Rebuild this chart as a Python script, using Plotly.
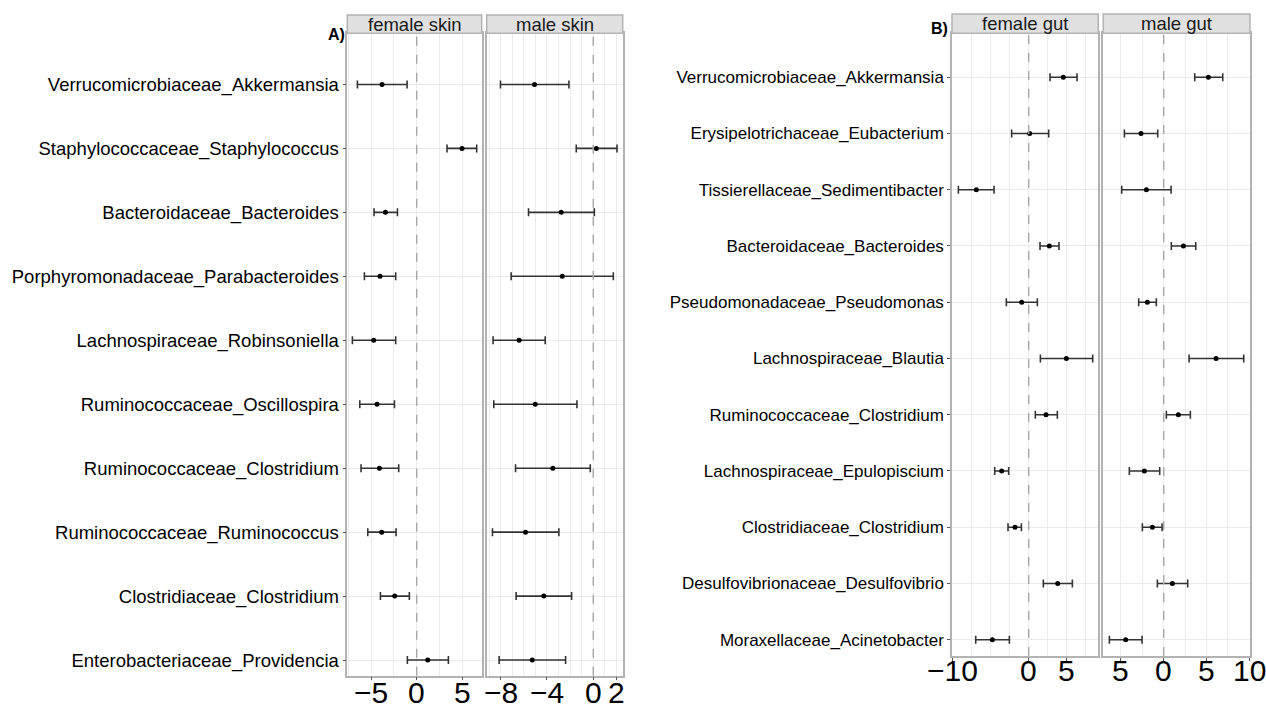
import plotly.graph_objects as go

# ---------------- Panel A (skin) ----------------
skin_taxa = [
    "Verrucomicrobiaceae_Akkermansia",
    "Staphylococcaceae_Staphylococcus",
    "Bacteroidaceae_Bacteroides",
    "Porphyromonadaceae_Parabacteroides",
    "Lachnospiraceae_Robinsoniella",
    "Ruminococcaceae_Oscillospira",
    "Ruminococcaceae_Clostridium",
    "Ruminococcaceae_Ruminococcus",
    "Clostridiaceae_Clostridium",
    "Enterobacteriaceae_Providencia",
]
female_skin_est = [-3.81, 4.98, -3.44, -4.03, -4.73, -4.36, -4.10, -3.85, -2.42, 1.21]
female_skin_low = [-6.52, 3.33, -4.69, -5.75, -7.07, -6.26, -6.12, -5.38, -3.99, -1.03]
female_skin_high = [-1.06, 6.59, -2.12, -2.31, -2.31, -2.45, -1.98, -2.27, -0.81, 3.48]

male_skin_est = [-5.07, 0.26, -2.77, -2.68, -6.40, -5.01, -3.49, -5.85, -4.27, -5.27]
male_skin_low = [-8.01, -1.47, -5.59, -7.09, -8.65, -8.59, -6.71, -8.70, -6.66, -8.13]
male_skin_high = [-2.10, 2.05, 0.09, 1.73, -4.15, -1.41, -0.26, -2.97, -1.87, -2.39]

# ---------------- Panel B (gut) ----------------
gut_taxa = [
    "Verrucomicrobiaceae_Akkermansia",
    "Erysipelotrichaceae_Eubacterium",
    "Tissierellaceae_Sedimentibacter",
    "Bacteroidaceae_Bacteroides",
    "Pseudomonadaceae_Pseudomonas",
    "Lachnospiraceae_Blautia",
    "Ruminococcaceae_Clostridium",
    "Lachnospiraceae_Epulopiscium",
    "Clostridiaceae_Clostridium",
    "Desulfovibrionaceae_Desulfovibrio",
    "Moraxellaceae_Acinetobacter",
]
female_gut_est = [4.56, 0.13, -6.89, 2.72, -0.92, 4.96, 2.28, -3.55, -1.80, 3.82, -4.78]
female_gut_low = [2.81, -2.24, -9.25, 1.49, -2.94, 1.54, 0.88, -4.47, -2.72, 1.93, -6.97]
female_gut_high = [6.36, 2.63, -4.56, 3.99, 1.14, 8.42, 3.77, -2.63, -0.96, 5.75, -2.54]

male_gut_est = [5.21, -2.65, -2.02, 2.30, -1.91, 6.11, 1.71, -2.26, -1.32, 1.01, -4.44]
male_gut_low = [3.62, -4.59, -4.90, 0.89, -2.92, 2.96, 0.31, -4.01, -2.49, -0.74, -6.34]
male_gut_high = [6.89, -0.70, 0.86, 3.74, -0.86, 9.34, 3.11, -0.47, -0.19, 2.80, -2.53]

strip_labels = ["female skin", "male skin", "female gut", "male gut"]
panel_tags = ["A)", "B)"]

x_tickvals = [[-5, 0, 5], [-8, -4, 0, 2], [-10, 0, 5], [-5, 0, 5, 10]]
x_ticktext = [["−5", "0", "5"], ["−8", "−4", "0", "2"], ["−10", "0", "5"], ["5", "0", "5", "10"]]
x_minor_dtick = [2.5, 1, 2.5, 2.5]
x_ranges = [[-7.63, 7.14], [-9.2, 2.54], [-10.09, 9.16], [-7.05, 10.07]]

W, H = 1266, 704
x_dom_px = [(347.3, 481.7), (486.7, 622.7), (952.0, 1098.3), (1103.3, 1250.0)]
y_dom_px = [(33.3, 675.7), (33.3, 675.7), (33.3, 656.0), (33.3, 656.0)]
xlabel_center_px = [692.0, 692.0, 670.0, 670.0]

panels = [
    (skin_taxa, female_skin_est, female_skin_low, female_skin_high),
    (skin_taxa, male_skin_est, male_skin_low, male_skin_high),
    (gut_taxa, female_gut_est, female_gut_low, female_gut_high),
    (gut_taxa, male_gut_est, male_gut_low, male_gut_high),
]
y_ranges = [[9.245, -0.8], [9.245, -0.8], [10.29, -0.78], [10.29, -0.78]]

FONT = "Liberation Sans, Arial, sans-serif"
GRID = "#EBEBEB"
BORDER = "#B3B3B3"

fig = go.Figure()
layout = {}
shapes = []
annotations = []

for i, (taxa, est, low, high) in enumerate(panels):
    n = i + 1
    xa = "x" if n == 1 else f"x{n}"
    ya = "y" if n == 1 else f"y{n}"
    plus = [h - e for h, e in zip(high, est)]
    minus = [e - l for e, l in zip(est, low)]
    fig.add_trace(go.Scatter(
        x=est, y=taxa, mode="markers",
        marker=dict(color="black", size=5),
        error_x=dict(type="data", symmetric=False, array=plus, arrayminus=minus,
                     color="#333333", thickness=1.6, width=4),
        xaxis=xa, yaxis=ya, showlegend=False,
    ))
    x0, x1 = x_dom_px[i]
    yt, yb = y_dom_px[i]
    kx = "xaxis" if n == 1 else f"xaxis{n}"
    ky = "yaxis" if n == 1 else f"yaxis{n}"
    layout[kx] = dict(
        domain=[x0 / W, x1 / W], anchor=ya, range=x_ranges[i],
        tickmode="array", tickvals=x_tickvals[i], ticktext=x_ticktext[i],
        showticklabels=False,
        ticks="outside", ticklen=3, tickcolor="#555555",
        showgrid=True, gridcolor=GRID, gridwidth=1,
        minor=dict(dtick=x_minor_dtick[i], tick0=0, showgrid=True, gridcolor=GRID, gridwidth=1),
        showline=True, mirror=True, linecolor=BORDER, linewidth=1.5,
        zeroline=False, fixedrange=True, automargin=False,
    )
    # x tick labels placed through the axis scale (data x, paper y)
    for tv, tt in zip(x_tickvals[i], x_ticktext[i]):
        annotations.append(dict(x=tv, xref=xa, y=1 - xlabel_center_px[i] / H, yref="paper",
                                text=tt, showarrow=False, xanchor="center", yanchor="middle",
                                borderpad=0,
                                font=dict(size=30, color="black", family=FONT)))
    show_labels = i in (0, 2)
    layout[ky] = dict(
        domain=[1 - yb / H, 1 - yt / H], anchor=xa, type="category",
        categoryorder="array", categoryarray=taxa, range=y_ranges[i],
        showticklabels=show_labels,
        tickfont=dict(size=18.5 if i == 0 else 17, color="black", family=FONT),
        ticks="outside" if show_labels else "", ticklen=3, tickcolor="#555555",
        showgrid=True, gridcolor=GRID, gridwidth=1,
        showline=True, mirror=True, linecolor=BORDER, linewidth=1.5,
        zeroline=False, fixedrange=True, automargin=False,
    )
    # dashed zero reference line
    shapes.append(dict(type="line", xref=xa, yref=f"{ya} domain", x0=0, x1=0, y0=0, y1=1,
                       line=dict(color="#AAAAAA", width=1.5, dash="dash"), layer="above"))
    # strip
    strip_top = 15 if i < 2 else 14
    shapes.append(dict(type="rect", xref="paper", yref="paper",
                       x0=x0 / W, x1=x1 / W, y0=1 - yt / H, y1=1 - strip_top / H,
                       fillcolor="#E0E0E0", line=dict(color=BORDER, width=1.5)))
    annotations.append(dict(x=(x0 + x1) / 2 / W, y=1 - (yt + strip_top) / 2 / H,
                            xref="paper", yref="paper", text=strip_labels[i], showarrow=False,
                            font=dict(size=18.5, color="#1A1A1A", family=FONT),
                            xanchor="center", yanchor="middle"))

annotations.append(dict(x=336 / W, y=1 - 35 / H, xref="paper", yref="paper", text="<b>A)</b>",
                        showarrow=False, font=dict(size=16, color="black", family=FONT),
                        xanchor="center", yanchor="middle"))
annotations.append(dict(x=939 / W, y=1 - 29 / H, xref="paper", yref="paper", text="<b>B)</b>",
                        showarrow=False, font=dict(size=16, color="black", family=FONT),
                        xanchor="center", yanchor="middle"))

fig.update_layout(
    width=W, height=H,
    margin=dict(l=0, r=0, t=0, b=0, autoexpand=False),
    paper_bgcolor="white", plot_bgcolor="white",
    shapes=shapes, annotations=annotations,
    font=dict(family=FONT),
    **layout,
)

fig.write_html("out.html", config={"displayModeBar": False},
               post_script="document.body.style.margin='0';document.body.style.overflow='hidden';")
